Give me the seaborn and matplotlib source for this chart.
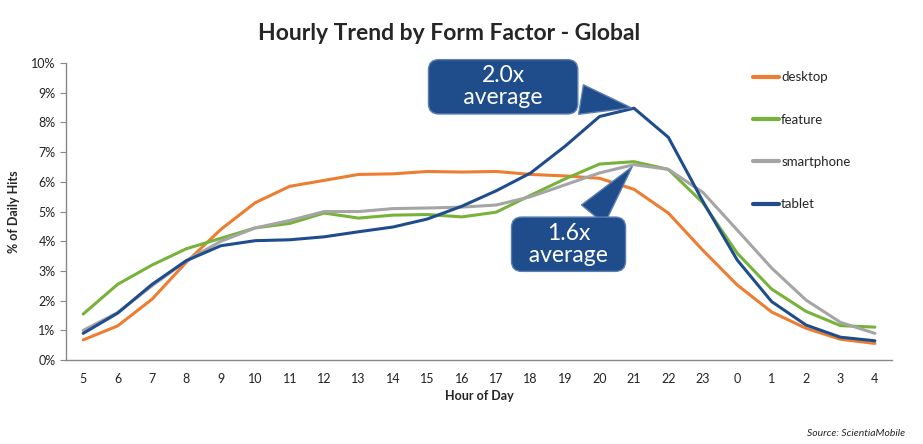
import matplotlib
matplotlib.use("Agg")
import matplotlib.pyplot as plt
import numpy as np
import pandas as pd
import seaborn as sns
from matplotlib.ticker import FixedLocator, PercentFormatter

hours = [5, 6, 7, 8, 9, 10, 11, 12, 13, 14, 15, 16, 17, 18, 19, 20, 21, 22, 23, 0, 1, 2, 3, 4]

desktop = [0.68, 1.15, 2.05, 3.3, 4.4, 5.3, 5.85, 6.05, 6.25, 6.27, 6.35, 6.33, 6.35, 6.25,
           6.2, 6.12, 5.75, 4.95, 3.7, 2.53, 1.62, 1.07, 0.7, 0.56]
feature = [1.55, 2.55, 3.2, 3.75, 4.1, 4.45, 4.6, 4.95, 4.78, 4.88, 4.9, 4.82, 4.98, 5.55,
           6.1, 6.6, 6.68, 6.42, 5.3, 3.6, 2.39, 1.64, 1.16, 1.11]
smartphone = [1.0, 1.6, 2.5, 3.35, 4.0, 4.45, 4.7, 5.0, 5.0, 5.1, 5.12, 5.15, 5.22, 5.5,
              5.9, 6.3, 6.58, 6.42, 5.65, 4.38, 3.1, 2.02, 1.27, 0.9]
tablet = [0.9, 1.58, 2.55, 3.35, 3.85, 4.02, 4.05, 4.15, 4.32, 4.48, 4.75, 5.18, 5.7, 6.3,
          7.2, 8.2, 8.48, 7.5, 5.35, 3.37, 1.97, 1.18, 0.77, 0.65]

series = {"desktop": desktop, "feature": feature, "smartphone": smartphone, "tablet": tablet}
colors = {"desktop": "#ED7D31", "feature": "#77B23A", "smartphone": "#A5A5A5", "tablet": "#1F4D8C"}

rows = []
for name, vals in series.items():
    for i, v in enumerate(vals):
        rows.append({"pos": i, "hour": hours[i], "share": v, "form": name})
df = pd.DataFrame(rows)

sns.set_style("white")
plt.rcParams["font.family"] = ["Lato", "DejaVu Sans"]

fig = plt.figure(figsize=(9.23, 4.44), dpi=100)
ax = fig.add_axes([0.0715, 0.189, 0.895, 0.669])

sns.lineplot(data=df, x="pos", y="share", hue="form", palette=colors, linewidth=2.2, ax=ax)

ax.set_xlim(-0.5, len(hours) - 0.5)
ax.set_ylim(0, 10)
ax.yaxis.set_major_locator(FixedLocator(np.arange(0, 11, 1)))
ax.yaxis.set_major_formatter(PercentFormatter(decimals=0))
ax.set_xticks(range(len(hours)))
ax.set_xticklabels([str(h) for h in hours])
ax.xaxis.set_minor_locator(FixedLocator(np.arange(-0.5, len(hours), 1)))
ax.tick_params(axis="x", which="major", length=0, pad=9, labelsize=9, colors="#222222")
ax.tick_params(axis="x", which="minor", length=4, color="#888888", direction="out")
ax.tick_params(axis="y", length=4, color="#888888", direction="out", labelsize=9, colors="#222222")
ax.tick_params(axis="y", which="major", left=True)
for side in ["top", "right"]:
    ax.spines[side].set_visible(False)
for side in ["left", "bottom"]:
    ax.spines[side].set_color("#888888")
    ax.spines[side].set_linewidth(1)

ax.set_xlabel("Hour of Day", fontsize=9, fontweight="bold", labelpad=4)
ax.set_ylabel("% of Daily Hits", fontsize=9, fontweight="bold", labelpad=8)
fig.text(0.487, 0.925, "Hourly Trend by Form Factor - Global", ha="center", va="center",
         fontsize=16.5, fontweight="bold")

leg = ax.legend(loc="upper left", bbox_to_anchor=(0.817, 1.012), frameon=False, fontsize=9.5,
                labelspacing=2.3, handlelength=2.0, handletextpad=0.15)
for line in leg.get_lines():
    line.set_linewidth(3)

# bulles de commentaire (texte élargi par des espaces pour la largeur de la boîte)
box = dict(boxstyle="round,pad=0.25,rounding_size=0.45", fc="#1F4D8C", ec="#5B7DB0", lw=1)
wedge = dict(arrowstyle="wedge,tail_width=1.3,shrink_factor=0.5", fc="#1F4D8C", ec="#5B7DB0", lw=1)
ax.annotate("2.0x\n     average     ", xy=(16, tablet[16]), xytext=(12.2, 9.2),
            ha="center", va="center", fontsize=16.5, color="white", bbox=box,
            linespacing=1.05, arrowprops=wedge)
ax.annotate("1.6x\n  average  ", xy=(16, smartphone[16]), xytext=(14.1, 3.9),
            ha="center", va="center", fontsize=16.5, color="white", bbox=box,
            linespacing=1.05, arrowprops=wedge)

fig.text(0.981, 0.014, "Source: ScientiaMobile", ha="right", va="bottom", fontsize=7.5, style="italic")

fig.savefig("out.png", dpi=100)
